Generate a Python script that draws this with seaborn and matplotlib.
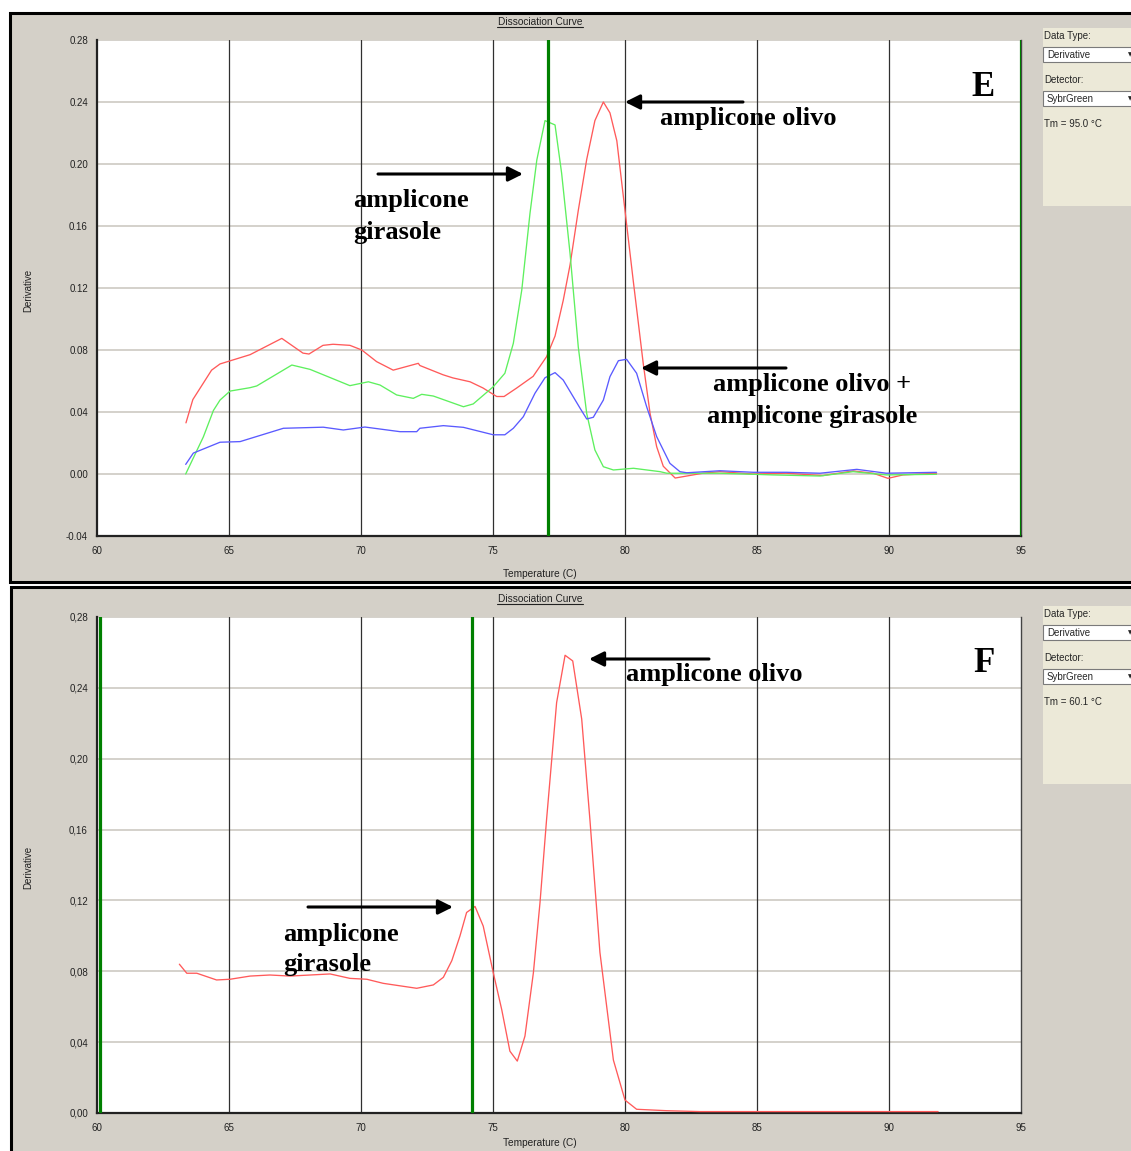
import matplotlib
matplotlib.use("Agg")
import matplotlib.pyplot as plt
import numpy as np
import pandas as pd
import seaborn as sns
from matplotlib.patches import Rectangle
from matplotlib.lines import Line2D
from matplotlib.transforms import Affine2D

# ---------------- data ----------------
e_red_t = [63.37, 63.63, 64.34, 64.66, 65.04, 65.80, 67.00, 67.80, 68.03, 68.56, 68.94, 69.58,
           70.03, 70.59, 71.22, 72.17, 72.23, 73.11, 73.48, 74.13, 74.62, 75.14, 75.42, 75.90,
           76.52, 77.03, 77.35, 77.66, 77.92, 78.23, 78.55, 78.86, 79.18, 79.43, 79.69, 80.00,
           80.31, 80.69, 80.95, 81.20, 81.45, 81.90, 82.95, 83.60, 84.85, 86.10, 87.50, 88.64,
           89.40, 89.96, 90.53, 91.80]
e_red_d = [0.033, 0.048, 0.067, 0.071, 0.073, 0.077, 0.0875, 0.078, 0.0774, 0.083, 0.0837, 0.083,
           0.080, 0.0725, 0.067, 0.0714, 0.070, 0.064, 0.062, 0.0595, 0.0555, 0.050, 0.050, 0.0555,
           0.063, 0.0757, 0.089, 0.112, 0.135, 0.170, 0.203, 0.228, 0.240, 0.233, 0.215, 0.170,
           0.125, 0.0714, 0.039, 0.0176, 0.005, -0.0026, 0.0005, 0.0015, 0.0, 0.0005, -0.001, 0.002,
           0.0005, -0.0028, -0.0006, 0.0005]

e_green_t = [63.36, 64.03, 64.41, 64.66, 65.04, 65.80, 66.05, 67.38, 68.07, 69.58, 70.28, 70.72,
             71.35, 71.98, 72.30, 72.74, 73.88, 74.25, 75.01, 75.45, 75.77, 76.09, 76.40, 76.66,
             76.97, 77.35, 77.60, 77.92, 78.23, 78.55, 78.86, 79.18, 79.56, 80.32, 81.33, 81.58,
             83.60, 85.60, 87.39, 88.64, 89.90, 91.80]
e_green_d = [0.0, 0.024, 0.041, 0.0477, 0.0535, 0.0557, 0.0568, 0.0703, 0.0675, 0.057, 0.0595, 0.0574,
             0.051, 0.0488, 0.0514, 0.0503, 0.0434, 0.0452, 0.0563, 0.065, 0.0843, 0.1187, 0.168, 0.2026,
             0.228, 0.2252, 0.194, 0.142, 0.082, 0.039, 0.0155, 0.0047, 0.0026, 0.0037, 0.0015, 0.0005,
             0.0005, -0.0006, -0.0013, 0.0015, -0.0006, -0.0002]

e_blue_t = [63.36, 63.65, 64.66, 65.42, 67.06, 68.57, 69.33, 70.15, 71.48, 72.11, 72.23, 73.12,
            73.88, 75.01, 75.45, 75.77, 76.15, 76.59, 76.97, 77.35, 77.66, 78.30, 78.55, 78.80,
            79.18, 79.43, 79.75, 80.06, 80.44, 80.82, 81.20, 81.70, 82.08, 82.34, 83.60, 84.86,
            86.12, 87.39, 88.78, 89.90, 91.80]
e_blue_d = [0.0062, 0.0135, 0.0205, 0.0209, 0.0295, 0.0302, 0.0284, 0.0303, 0.0273, 0.0273, 0.0295, 0.0312,
            0.0301, 0.0253, 0.0253, 0.0295, 0.037, 0.0521, 0.0621, 0.0654, 0.0606, 0.0424, 0.0355, 0.0366,
            0.0477, 0.0628, 0.0731, 0.074, 0.065, 0.0434, 0.0241, 0.0069, 0.0015, 0.0008, 0.0021, 0.0011,
            0.0011, 0.0005, 0.003, 0.0005, 0.0011]

f_red_t = [63.12, 63.40, 63.78, 64.53, 65.04, 65.80, 66.55, 67.31, 68.83, 69.58, 70.22, 70.84,
           72.11, 72.74, 73.12, 73.44, 73.75, 74.00, 74.32, 74.63, 75.01, 75.33, 75.64, 75.92,
           76.21, 76.53, 76.78, 77.03, 77.41, 77.73, 78.02, 78.36, 78.67, 79.05, 79.56, 80.00,
           80.44, 81.58, 82.84, 86.60, 91.86]
f_red_d = [0.084, 0.0789, 0.0789, 0.0751, 0.0755, 0.0773, 0.0779, 0.0773, 0.0785, 0.076, 0.0755, 0.0732,
           0.0704, 0.0723, 0.0766, 0.086, 0.100, 0.1132, 0.1166, 0.1055, 0.0792, 0.0584, 0.0349, 0.0293,
           0.0434, 0.0792, 0.1187, 0.1658, 0.2317, 0.2584, 0.2552, 0.2224, 0.1658, 0.0907, 0.0299, 0.0073,
           0.0021, 0.0013, 0.0008, 0.0008, 0.0008]

e_markers = [77.1, 95.0]
f_markers = [60.1, 74.2]

x_ticks = [60, 65, 70, 75, 80, 85, 90, 95]
e_yticks = [-0.04, 0.00, 0.04, 0.08, 0.12, 0.16, 0.20, 0.24, 0.28]
e_ylabels = ["-0.04", "0.00", "0.04", "0.08", "0.12", "0.16", "0.20", "0.24", "0.28"]
f_yticks = [0.00, 0.04, 0.08, 0.12, 0.16, 0.20, 0.24, 0.28]
f_ylabels = ["0,00", "0,04", "0,08", "0,12", "0,16", "0,20", "0,24", "0,28"]

e_tm_text = "Tm = 95.0 °C"
f_tm_text = "Tm = 60.1 °C"

# ---------------- figure ----------------
sns.set_style("white")
plt.rcParams['font.family'] = ['Liberation Sans', 'DejaVu Sans']

W, H = 1131, 1151
fig = plt.figure(figsize=(W / 100, H / 100), dpi=100, facecolor='white')
T = Affine2D().scale(1 / W, -1 / H).translate(0, 1) + fig.transFigure

PANEL = '#D4D0C8'
SIDE = '#ECE9D8'
RED, GREEN, BLUE = '#FF5A5A', '#5EF05E', '#5A5AFF'
UI = 7


def rect(x0, y0, x1, y1, **kw):
    r = Rectangle((x0, y0), x1 - x0, y1 - y0, transform=T, **kw)
    fig.add_artist(r)
    return r


def hline(x0, x1, y, **kw):
    fig.add_artist(Line2D([x0, x1], [y, y], transform=T, **kw))


def txt(x, y, s, **kw):
    kw.setdefault('fontsize', UI)
    kw.setdefault('va', 'center')
    fig.text(x, y, s, transform=T, **kw)


# panel backgrounds
rect(10, 13, 1150, 582, fc=PANEL, ec='black', lw=2.2, zorder=-5)
rect(11, 587, 1150, 1170, fc=PANEL, ec='black', lw=2.2, zorder=-5)


def side_panel(top, tm_text):
    rect(1043, top, 1150, top + 178, fc=SIDE, ec='none', zorder=1)
    txt(1044, top + 8, "Data Type:")
    rect(1043, top + 19, 1150, top + 34, fc='white', ec='#7A7A7A', lw=0.8, zorder=1)
    txt(1047, top + 27, "Derivative")
    txt(1128, top + 27, "▼", fontsize=4, family='DejaVu Sans')
    txt(1044, top + 52, "Detector:")
    rect(1043, top + 63, 1150, top + 78, fc='white', ec='#7A7A7A', lw=0.8, zorder=1)
    txt(1047, top + 71, "SybrGreen")
    txt(1128, top + 71, "▼", fontsize=4, family='DejaVu Sans')
    txt(1044, top + 96, tm_text)


def make_axes(top, ylim, yticks, ylabels, curves, markers, title_y, ylabel_y, xlabel_y):
    ax = fig.add_axes([97 / W, 1 - (top + 496) / H, 924 / W, 496 / H])
    ax.set_facecolor('white')
    rows = []
    for name, t, d in curves:
        rows.append(pd.DataFrame({'temp': t, 'deriv': d, 'sample': name}))
    df = pd.concat(rows, ignore_index=True)
    pal = {'red': RED, 'green': GREEN, 'blue': BLUE}
    sns.lineplot(data=df, x='temp', y='deriv', hue='sample', palette=pal,
                 estimator=None, sort=False, legend=False, lw=0.95, ax=ax, zorder=3)
    for m in markers:
        ax.axvline(m, color='#008000', lw=2.3, zorder=4)
    ax.set_xlim(60, 95)
    ax.set_ylim(*ylim)
    ax.set_xticks(x_ticks)
    ax.set_xticklabels([str(v) for v in x_ticks])
    ax.set_yticks(yticks)
    ax.set_yticklabels(ylabels)
    ax.set_xlabel('')
    ax.set_ylabel('')
    ax.grid(False)
    for v in x_ticks[1:-1]:
        ax.axvline(v, color='#303030', lw=0.9, zorder=1)
    for v in yticks[1:]:
        ax.axhline(v, color='#C9C5BD', lw=1.1, zorder=0.9)
    ax.tick_params(length=0, labelsize=UI, colors='#222222')
    ax.tick_params(axis='y', pad=6.5)
    ax.tick_params(axis='x', pad=7)
    ax.spines['top'].set_visible(False)
    for s in ('left', 'bottom'):
        ax.spines[s].set_color('#222222')
        ax.spines[s].set_linewidth(1.6)
    ax.spines['right'].set_color('#444444')
    ax.spines['right'].set_linewidth(1.0)
    # title, labels
    txt(540, title_y, "Dissociation Curve", ha='center', fontsize=7.3, color='#222222')
    hline(497, 583, title_y + 5, color='#222222', lw=0.8)
    txt(28, ylabel_y, "Derivative", ha='center', rotation=90, color='#222222')
    txt(540, xlabel_y, "Temperature (C)", ha='center', fontsize=7.3, color='#222222')
    return ax


def arrow(ax, tail, head):
    ax.annotate('', xy=head, xytext=tail, xycoords=T, textcoords=T,
                arrowprops=dict(arrowstyle='-|>', color='black', lw=2.2,
                                mutation_scale=22, shrinkA=0, shrinkB=0),
                zorder=6)


def note(ax, x, y, s, ha='left', size=19):
    ax.text(x, y, s, transform=T, ha=ha, va='center', fontsize=size,
            fontweight='bold', family='Liberation Serif', color='black', zorder=6)


# ---- panel E ----
axE = make_axes(40, (-0.04, 0.28), e_yticks, e_ylabels,
                [('red', e_red_t, e_red_d), ('green', e_green_t, e_green_d), ('blue', e_blue_t, e_blue_d)],
                e_markers, 22, 290, 574)
side_panel(28, e_tm_text)
note(axE, 983, 87, "E", ha='center', size=25)
note(axE, 660, 118, "amplicone olivo")
note(axE, 353, 201, "amplicone")
note(axE, 353, 232, "girasole")
note(axE, 812, 385, "amplicone olivo +", ha='center')
note(axE, 812, 416, "amplicone girasole", ha='center')
arrow(axE, (743, 102), (625, 102))
arrow(axE, (378, 174), (523, 174))
arrow(axE, (786, 368), (641, 368))

# ---- panel F ----
axF = make_axes(617, (0.0, 0.28), f_yticks, f_ylabels,
                [('red', f_red_t, f_red_d)],
                f_markers, 599, 867, 1143)
side_panel(606, f_tm_text)
note(axF, 984, 664, "F", ha='center', size=25)
note(axF, 626, 675, "amplicone olivo")
note(axF, 283, 935, "amplicone")
note(axF, 283, 965, "girasole")
arrow(axF, (709, 659), (589, 659))
arrow(axF, (308, 907), (453, 907))

fig.savefig("out.png", dpi=100, facecolor='white')
